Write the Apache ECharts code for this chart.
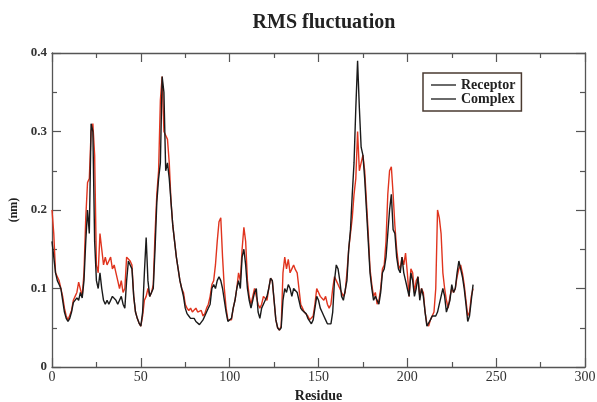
<!DOCTYPE html>
<html>
<head>
<meta charset="utf-8">
<script src="https://cdn.jsdelivr.net/npm/echarts@6/dist/echarts.min.js"></script>
<style>
  html, body { margin: 0; padding: 0; background: #fff; }
  #chart { width: 597px; height: 402px; }
</style>
</head>
<body>
<div id="chart"></div>
<script>
// RMSF per residue (nm)
const receptor = [
  0.16, 0.14, 0.12, 0.11, 0.105, 0.10, 0.085, 0.07, 0.062, 0.058,
  0.062, 0.07, 0.082, 0.08, 0.088, 0.085, 0.095, 0.088, 0.11, 0.16,
  0.20, 0.17, 0.31, 0.30, 0.16, 0.11, 0.10, 0.12, 0.10, 0.085,
  0.08, 0.085, 0.08, 0.08, 0.09, 0.09, 0.085, 0.08, 0.085, 0.09,
  0.08, 0.075, 0.11, 0.135, 0.13, 0.125, 0.09, 0.07, 0.062, 0.056,
  0.052, 0.07, 0.12, 0.165, 0.11, 0.09, 0.095, 0.10, 0.15, 0.21,
  0.24, 0.26, 0.37, 0.35, 0.25, 0.26, 0.24, 0.21, 0.18, 0.16,
  0.14, 0.125, 0.11, 0.10, 0.09, 0.075, 0.068, 0.065, 0.062, 0.06,
  0.062, 0.058, 0.06, 0.054, 0.056, 0.06, 0.065, 0.07, 0.068, 0.08,
  0.10, 0.105, 0.10, 0.11, 0.115, 0.11, 0.10, 0.085, 0.07, 0.058,
  0.056, 0.062, 0.075, 0.085, 0.10, 0.11, 0.10, 0.14, 0.15, 0.13,
  0.10, 0.085, 0.075, 0.085, 0.095, 0.10, 0.07, 0.062, 0.075, 0.08,
  0.085, 0.09, 0.10, 0.113, 0.11, 0.085, 0.06, 0.05, 0.047, 0.05,
  0.085, 0.10, 0.095, 0.105, 0.10, 0.09, 0.10, 0.10, 0.095, 0.085,
  0.075, 0.072, 0.07, 0.068, 0.062, 0.06, 0.055, 0.06, 0.075, 0.09,
  0.085, 0.075, 0.07, 0.065, 0.06, 0.055, 0.053, 0.055, 0.07, 0.11,
  0.13, 0.125, 0.11, 0.09, 0.085, 0.085, 0.11, 0.15, 0.175, 0.22,
  0.26, 0.33, 0.39, 0.33, 0.28, 0.27, 0.24, 0.20, 0.16, 0.12,
  0.10, 0.085, 0.09, 0.085, 0.08, 0.095, 0.12, 0.125, 0.14, 0.17,
  0.20, 0.22, 0.175, 0.17, 0.14, 0.125, 0.12, 0.14, 0.12, 0.11,
  0.10, 0.09, 0.12, 0.11, 0.09, 0.10, 0.115, 0.085, 0.10, 0.09,
  0.07, 0.052, 0.05, 0.06, 0.065, 0.064, 0.065, 0.07, 0.08, 0.09,
  0.10, 0.09, 0.07, 0.068, 0.085, 0.105, 0.095, 0.10, 0.12, 0.135,
  0.125, 0.115, 0.10, 0.08, 0.058, 0.065, 0.085, 0.105
];
const complex = [
  0.20, 0.17, 0.12, 0.115, 0.11, 0.10, 0.09, 0.075, 0.065, 0.06,
  0.062, 0.072, 0.085, 0.09, 0.095, 0.108, 0.11, 0.09, 0.12, 0.19,
  0.235, 0.24, 0.30, 0.31, 0.27, 0.13, 0.12, 0.17, 0.15, 0.13,
  0.14, 0.13, 0.135, 0.14, 0.125, 0.13, 0.12, 0.11, 0.10, 0.11,
  0.095, 0.10, 0.14, 0.14, 0.135, 0.13, 0.09, 0.07, 0.062, 0.056,
  0.052, 0.065, 0.085, 0.09, 0.10, 0.09, 0.095, 0.105, 0.17, 0.22,
  0.25, 0.34, 0.37, 0.30, 0.30, 0.29, 0.26, 0.21, 0.18, 0.16,
  0.14, 0.125, 0.11, 0.10, 0.095, 0.08, 0.075, 0.072, 0.075, 0.07,
  0.072, 0.075, 0.07, 0.068, 0.072, 0.065, 0.068, 0.075, 0.08, 0.09,
  0.105, 0.11, 0.13, 0.16, 0.185, 0.19, 0.14, 0.10, 0.075, 0.06,
  0.058, 0.06, 0.075, 0.085, 0.10, 0.12, 0.11, 0.15, 0.178, 0.16,
  0.11, 0.09, 0.08, 0.09, 0.10, 0.098, 0.08, 0.075, 0.08, 0.09,
  0.09, 0.085, 0.10, 0.113, 0.11, 0.085, 0.06, 0.05, 0.047, 0.052,
  0.12, 0.14, 0.125, 0.137, 0.12, 0.125, 0.13, 0.124, 0.12, 0.10,
  0.08, 0.075, 0.07, 0.07, 0.065, 0.06, 0.058, 0.065, 0.08, 0.10,
  0.10, 0.09, 0.09, 0.085, 0.09, 0.08, 0.075, 0.08, 0.10, 0.115,
  0.11, 0.105, 0.10, 0.095, 0.09, 0.095, 0.12, 0.15, 0.17, 0.19,
  0.22, 0.24, 0.30, 0.25, 0.26, 0.27, 0.25, 0.21, 0.17, 0.125,
  0.105, 0.09, 0.095, 0.08, 0.085, 0.10, 0.125, 0.13, 0.16, 0.22,
  0.25, 0.255, 0.22, 0.18, 0.15, 0.13, 0.125, 0.14, 0.13, 0.145,
  0.12, 0.09, 0.125, 0.12, 0.095, 0.11, 0.115, 0.09, 0.10, 0.095,
  0.07, 0.055, 0.052, 0.06, 0.065, 0.07, 0.10, 0.20, 0.19, 0.17,
  0.12, 0.10, 0.085, 0.075, 0.09, 0.10, 0.095, 0.10, 0.115, 0.125,
  0.13, 0.12, 0.105, 0.085, 0.065, 0.07, 0.09, 0.10
];
const residues = receptor.map((_, i) => i);

const chart = echarts.init(document.getElementById('chart'));

const serif = 'Liberation Serif';
const axisLine = { show: true, onZero: false, lineStyle: { color: '#555', width: 1.3 } };
const tick = { show: true, inside: true, length: 9, lineStyle: { color: '#555', width: 1.2 } };
const minor = { show: true, splitNumber: 2, length: 5, lineStyle: { color: '#555', width: 1.2 } };

const pairs = (ys) => residues.map((x, i) => [x, ys[i]]);

const option = {
  backgroundColor: '#fff',
  animation: false,
  title: {
    text: 'RMS fluctuation',
    left: 319,
    top: 8,
    textAlign: 'center',
    textStyle: { fontFamily: serif, fontWeight: 'bold', fontSize: 20, color: '#222' }
  },
  legend: {
    data: [
      { name: 'Receptor', itemStyle: { color: '#6a6a6a' } },
      { name: 'Complex', itemStyle: { color: '#6a6a6a' } }
    ],
    icon: 'rect',
    orient: 'vertical',
    left: 423,
    top: 73,
    padding: [5, 6, 5, 8],
    itemGap: 0,
    itemWidth: 25,
    itemHeight: 2,
    borderColor: '#4a3a30',
    borderWidth: 1.5,
    textStyle: { fontFamily: serif, fontWeight: 'bold', fontSize: 14, color: '#222', lineHeight: 14 }
  },
  grid: { left: 52, right: 12, top: 53, bottom: 35, outerBoundsMode: 'none' },
  xAxis: [
    {
      type: 'value', min: 0, max: 300, interval: 50,
      name: 'Residue', nameLocation: 'middle', nameGap: 21,
      nameTextStyle: { fontFamily: serif, fontWeight: 'bold', fontSize: 14, color: '#222' },
      axisLine: axisLine, axisTick: tick, minorTick: minor,
      axisLabel: { fontFamily: serif, fontSize: 14, color: '#333', margin: 3 },
      splitLine: { show: false }
    },
    {
      type: 'value', position: 'top', min: 0, max: 300, interval: 50,
      axisLine: axisLine, axisTick: tick, minorTick: minor,
      axisLabel: { show: false },
      splitLine: { show: false }
    }
  ],
  yAxis: [
    {
      type: 'value', min: 0, max: 0.4, interval: 0.1,
      name: '(nm)', nameLocation: 'middle', nameGap: 27, nameRotate: 90,
      nameTextStyle: { fontFamily: serif, fontWeight: 'bold', fontSize: 12, color: '#222' },
      axisLine: axisLine, axisTick: tick, minorTick: minor,
      axisLabel: { fontFamily: serif, fontWeight: 'bold', fontSize: 13, color: '#333', margin: 5 },
      splitLine: { show: false }
    },
    {
      type: 'value', position: 'right', min: 0, max: 0.4, interval: 0.1,
      axisLine: axisLine, axisTick: tick, minorTick: minor,
      axisLabel: { show: false },
      splitLine: { show: false }
    }
  ],
  series: [
    {
      name: 'Complex', type: 'line', symbol: 'none',
      data: pairs(complex),
      lineStyle: { color: '#e0341e', width: 1.4 },
      itemStyle: { color: '#e0341e' }
    },
    {
      name: 'Receptor', type: 'line', symbol: 'none',
      data: pairs(receptor),
      lineStyle: { color: '#1a1a1a', width: 1.4 },
      itemStyle: { color: '#1a1a1a' }
    }
  ]
};

chart.setOption(option);
</script>
</body>
</html>
